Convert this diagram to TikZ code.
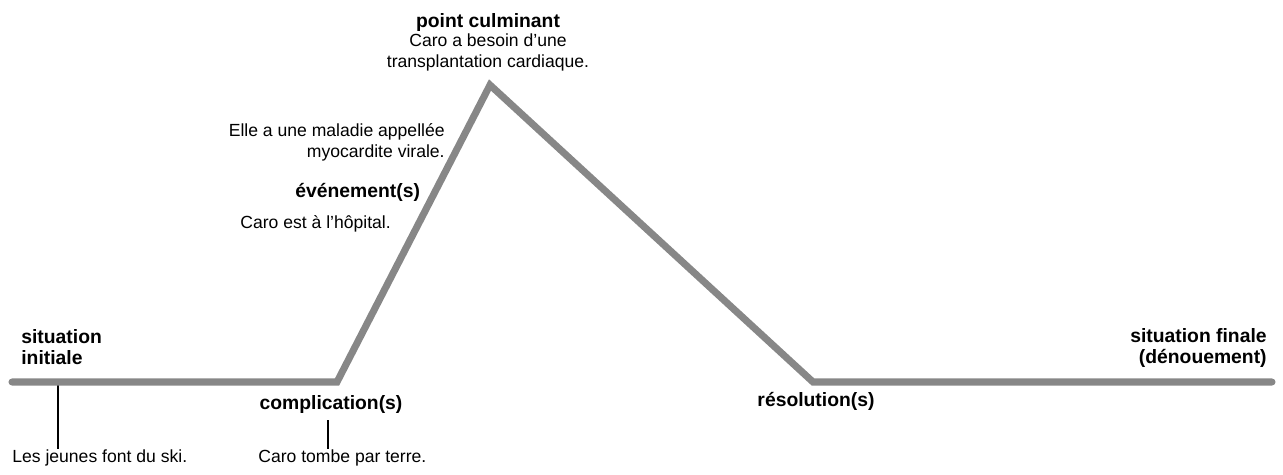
\documentclass[tikz,border=0pt]{standalone}
\usepackage{fontspec}
\setmainfont{Liberation Sans}
\usetikzlibrary{positioning}

\tikzset{
  storyline/.style={draw=black!47, line width=4pt, line join=miter, line cap=round},
  stage/.style={font=\fontsize{11}{11.8}\selectfont\bfseries, inner sep=0pt},
  event/.style={font=\fontsize{10}{11.4}\selectfont, inner sep=0pt},
  tick/.style={draw, line width=0.6pt}
}

\begin{document}
\begin{tikzpicture}[x=0.02cm, y=-0.02cm]
	\useasboundingbox (0,0) rectangle (1283,474);
	% points of the story line
	\coordinate (debut) at (12,382);
	\coordinate (compl) at (337,382);
	\coordinate (sommet) at (490,85);
	\coordinate (resol) at (813,382);
	\coordinate (fin) at (1272,382);
	% labels (base of a two-line node = last line)
	\node[stage, align=left, anchor=base west] (sitinit) at (21,364) {situation\\initiale};
	\node[event, anchor=base west] (ski) at (12,462) {Les jeunes font du ski.};
	\node[stage, anchor=base] (cplx) at (331,409) {complication(s)};
	\node[event, anchor=base west] (tombe) at (258,462) {Caro tombe par terre.};
	\node[event, anchor=base west] (hopital) at (240,228) {Caro est à l’hôpital.};
	\node[stage, anchor=base west] (evnt) at (295,197) {événement(s)};
	\node[event, align=right, anchor=base east] (maladie) at (445,157) {Elle a une maladie appellée\\myocardite virale.};
	\node[stage, anchor=base] (culmin) at (488,27) {point culminant};
	\node[event, align=center, anchor=base] (besoin) at (488,67) {Caro a besoin d’une\\transplantation cardiaque.};
	\node[stage, anchor=base] (resolut) at (816,406) {résolution(s)};
	\node[stage, align=right, anchor=base east] (sitfin) at (1267,363) {situation finale\\(dénouement)};
	% ticks
	\coordinate (t1) at (58,382);
	\coordinate (t2) at (328,0);
	\draw[tick] (t1) -- (t1 |- ski.north);
	\draw[tick, shorten <=4pt] (t2 |- cplx.south) -- (t2 |- tombe.north);
	% the line
	\draw[storyline] (debut) -- (compl) -- (sommet) -- (resol) -- (fin);
\end{tikzpicture}
\end{document}
